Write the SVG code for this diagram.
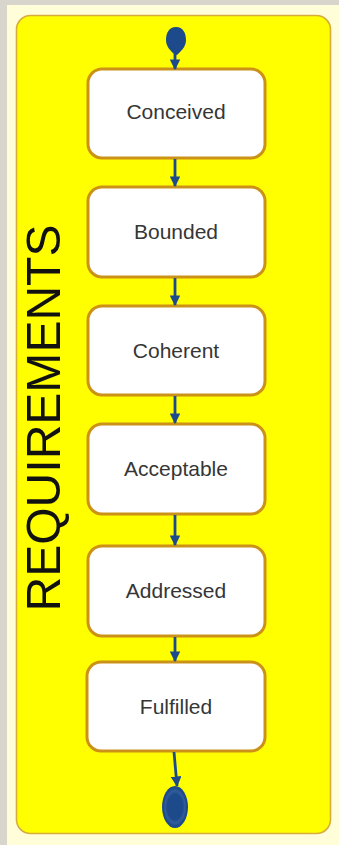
<svg xmlns="http://www.w3.org/2000/svg" width="339" height="845" viewBox="0 0 339 845">
  <defs>
    <marker id="arrow" viewBox="0 0 10 10" refX="9" refY="5" markerWidth="3.8" markerHeight="3.8" orient="auto" markerUnits="strokeWidth">
      <path d="M0,0 L10,5 L0,10 z" fill="#1d4a8a"/>
    </marker>
    <radialGradient id="endFill" cx="0.5" cy="0.5" r="0.5">
      <stop offset="0.6" stop-color="#1d4a8a"/>
      <stop offset="0.76" stop-color="#315d9c"/>
      <stop offset="0.9" stop-color="#1d4a8a"/>
    </radialGradient>
  </defs>
  <style>
    .state rect { fill: #ffffff; stroke: #cc9218; stroke-width: 3; }
    .state text { font-family: "Liberation Sans", Arial, sans-serif; font-size: 21px; fill: #363636; text-anchor: middle; }
    .edge { stroke: #1d4a8a; stroke-width: 2.8; fill: none; marker-end: url(#arrow); }
  </style>

  <!-- page background -->
  <rect x="0" y="0" width="339" height="845" fill="#d8d6cc"/>
  <rect x="7" y="5" width="332" height="840" fill="#fffed9"/>

  <!-- swimlane frame -->
  <g id="lane">
    <rect x="16.5" y="15.5" width="314" height="818" rx="14" fill="#ffff00" stroke="#d6ac3c" stroke-width="1.6"/>
    <text x="60" y="418" transform="rotate(-90 60 418)" font-family="Liberation Sans, Arial, sans-serif" font-size="48" fill="#111111" text-anchor="middle" textLength="387" lengthAdjust="spacingAndGlyphs">REQUIREMENTS</text>
  </g>

  <!-- initial pseudo-state -->
  <g id="start">
    <path d="M176,27 C183,27 186,33 186,40 C186,47 181,51 177,55 L175,55 C171,51 166,47 166,40 C166,33 169,27 176,27 Z" fill="#1d4a8a"/>
  </g>

  <!-- states -->
  <g id="conceived" class="state">
    <rect x="88" y="69" width="177" height="89" rx="14"/>
    <text x="176" y="119">Conceived</text>
  </g>
  <g id="bounded" class="state">
    <rect x="88" y="187" width="177" height="90" rx="14"/>
    <text x="176" y="239">Bounded</text>
  </g>
  <g id="coherent" class="state">
    <rect x="88" y="306" width="177" height="89" rx="14"/>
    <text x="176" y="358">Coherent</text>
  </g>
  <g id="acceptable" class="state">
    <rect x="88" y="424" width="177" height="90" rx="14"/>
    <text x="176" y="476">Acceptable</text>
  </g>
  <g id="addressed" class="state">
    <rect x="88" y="546" width="177" height="90" rx="14"/>
    <text x="176" y="598">Addressed</text>
  </g>
  <g id="fulfilled" class="state">
    <rect x="87" y="662" width="178" height="89" rx="14"/>
    <text x="176" y="714">Fulfilled</text>
  </g>

  <!-- final pseudo-state -->
  <g id="end">
    <ellipse cx="175" cy="807" rx="13" ry="21" fill="url(#endFill)"/>
  </g>

  <!-- transitions -->
  <g id="connectors">
    <path class="edge" d="M175,54 L175,69"/>
    <path class="edge" d="M175,159 L175,186"/>
    <path class="edge" d="M175,278 L175,305"/>
    <path class="edge" d="M175,396 L175,423"/>
    <path class="edge" d="M175,515 L175,545"/>
    <path class="edge" d="M175,637 L175,661"/>
    <path class="edge" d="M174,752 L177,786"/>
  </g>
</svg>
